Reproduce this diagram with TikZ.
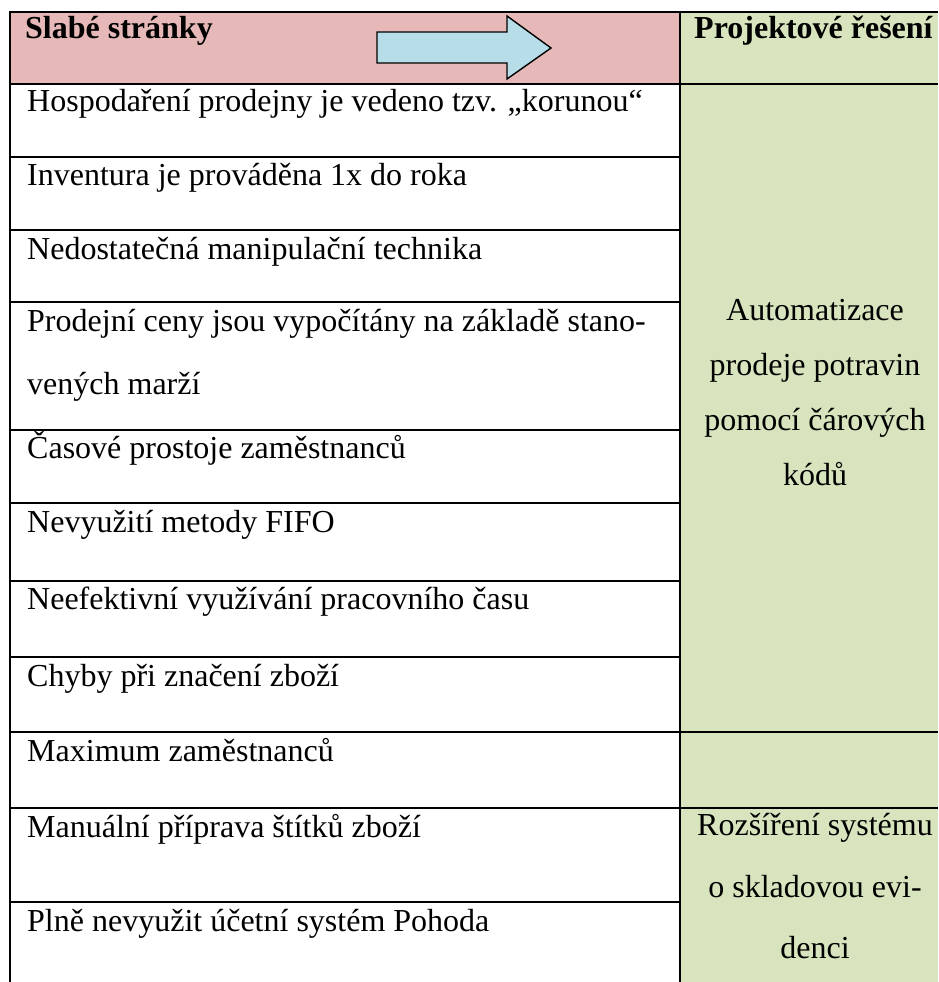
\documentclass[tikz,border=0pt]{standalone}
\usepackage{fontspec}
\setmainfont{Liberation Serif}
\definecolor{headpink}{HTML}{E6B9B8}
\definecolor{solgreen}{HTML}{D7E4BD}
\definecolor{arrowblue}{HTML}{B7DEE8}
\begin{document}
\begin{tikzpicture}[x=1pt,y=-1pt,
  rule/.style={line width=2.3pt, black},
  cell/.style={anchor=base west, inner sep=0pt, font=\fontsize{32}{38}\selectfont},
  head/.style={anchor=base west, inner sep=0pt, font=\fontsize{32}{38}\selectfont\bfseries},
  sol/.style={anchor=base, inner sep=0pt, font=\fontsize{32}{38}\selectfont}]
\useasboundingbox (0,0) rectangle (938,982);

% backgrounds
\fill[headpink] (10,12) rectangle (680,84);
\fill[solgreen] (680,12) rectangle (938,982);

% table rules
\draw[rule] (10,982) -- (10,12) -- (938,12);
\draw[rule] (680,12) -- (680,982);
\foreach \y in {84,732,808} \draw[rule] (10,\y) -- (938,\y);
\foreach \y in {157,230,302,430,503,581,657,902} \draw[rule] (10,\y) -- (680,\y);

% block arrow in the header
\draw[line width=1.4pt, fill=arrowblue, line join=miter]
  (377,32) -- (507,32) -- (507,16) -- (551,48) -- (507,79) -- (507,63) -- (377,63) -- cycle;

% header
\node[head] (hweak) at (25,38) {Slabé stránky};
\node[head] (hsol) at (694,38) {Projektové řešení};

% weaknesses
\node[cell] (w1) at (27,111) {Hospodaření prodejny je vedeno tzv. „korunou“};
\node[cell] (w2) at (27,185) {Inventura je prováděna 1x do roka};
\node[cell] (w3) at (27,259) {Nedostatečná manipulační technika};
\node[cell] (w4a) at (27,331) {Prodejní ceny jsou vypočítány na základě stano-};
\node[cell] (w4b) at (27,394) {vených marží};
\node[cell] (w5) at (27,458) {Časové prostoje zaměstnanců};
\node[cell] (w6) at (27,532) {Nevyužití metody FIFO};
\node[cell] (w7) at (27,609) {Neefektivní využívání pracovního času};
\node[cell] (w8) at (27,686) {Chyby při značení zboží};
\node[cell] (w9) at (27,761) {Maximum zaměstnanců};
\node[cell] (w10) at (27,837) {Manuální příprava štítků zboží};
\node[cell] (w11) at (27,931) {Plně nevyužit účetní systém Pohoda};

% solutions
\node[sol] (s1a) at (815,320) {Automatizace};
\node[sol] (s1b) at (815,375) {prodeje potravin};
\node[sol] (s1c) at (815,430) {pomocí čárových};
\node[sol] (s1d) at (815,485) {kódů};
\node[sol] (s2a) at (815,835) {Rozšíření systému};
\node[sol] (s2b) at (815,897) {o skladovou evi-};
\node[sol] (s2c) at (815,958) {denci};
\end{tikzpicture}
\end{document}
